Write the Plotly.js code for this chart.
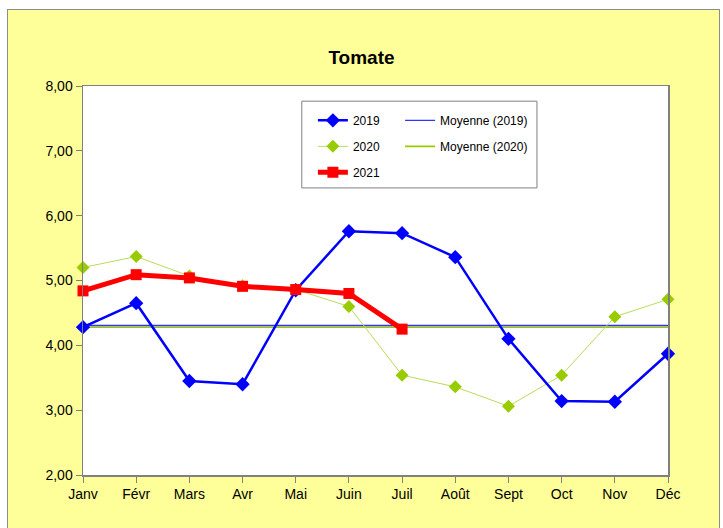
<!DOCTYPE html>
<html>
<head>
<meta charset="utf-8">
<script src="https://cdn.plot.ly/plotly-3.0.1.min.js"></script>
<style>
html,body{margin:0;padding:0;background:#ffffff;}
#frame{position:absolute;left:7px;top:9px;width:711px;height:530px;background:#ffff99;border:1px solid #8c8c8c;}
#chart{position:absolute;left:0;top:0;width:723px;height:528px;}
</style>
</head>
<body>
<div id="frame"></div>
<div id="chart"></div>
<script>
var months = ["Janv","Févr","Mars","Avr","Mai","Juin","Juil","Août","Sept","Oct","Nov","Déc"];
var y2019 = [4.28,4.65,3.45,3.40,4.85,5.76,5.73,5.36,4.10,3.14,3.13,3.87];
var y2020 = [5.20,5.37,5.07,4.92,4.86,4.60,3.54,3.36,3.06,3.54,4.44,4.71];
var y2021 = [4.84,5.09,5.04,4.91,4.86,4.80,4.25];
var moy2019 = [4.305,4.305,4.305,4.305,4.305,4.305,4.305,4.305,4.305,4.305,4.305,4.305];
var moy2020 = [4.28,4.28,4.28,4.28,4.28,4.28,4.28,4.28,4.28,4.28,4.28,4.28];

var FONT = "'Liberation Sans Narrow', 'Liberation Sans', Arial, sans-serif";

var traces = [
  {x: months, y: moy2020, name: "Moyenne (2020)", mode: "lines", line: {color: "#99cc00", width: 1.6}, legend: "legend2", legendgroup: "m20", legendrank: 2, cliponaxis: false},
  {x: months, y: moy2019, name: "Moyenne (2019)", mode: "lines", line: {color: "#3333ff", width: 1.4}, legend: "legend2", legendgroup: "m19", legendrank: 1, cliponaxis: false},
  {x: months, y: y2020, name: "2020", mode: "lines+markers", line: {color: "#b8dc5a", width: 1}, marker: {symbol: "diamond", size: 10, color: "#99cc00"}, legendgroup: "a20", legendrank: 2, cliponaxis: false},
  {x: months, y: y2019, name: "2019", mode: "lines+markers", line: {color: "#0000ff", width: 2.5}, marker: {symbol: "diamond", size: 11, color: "#0000ff"}, legendgroup: "a19", legendrank: 1, cliponaxis: false},
  {x: months.slice(0, y2021.length), y: y2021, name: "2021", mode: "lines+markers", line: {color: "#ff0000", width: 5}, marker: {symbol: "square", size: 11, color: "#ff0000"}, legendgroup: "a21", legendrank: 3, cliponaxis: false}
];

var layout = {
  width: 723, height: 528,
  paper_bgcolor: "rgba(0,0,0,0)",
  plot_bgcolor: "#ffffff",
  margin: {l: 83, r: 55, t: 86, b: 53},
  separators: ",.",
  font: {family: FONT, size: 13, color: "#000000"},
  title: {text: "<b>Tomate</b>", font: {family: FONT, size: 19, color: "#000000"}, x: 0.5, xanchor: "center", y: 0.892, yanchor: "middle"},
  showlegend: true,
  xaxis: {
    type: "category", range: [0, 11], showgrid: false, zeroline: false,
    showline: true, linecolor: "#808080", linewidth: 1.5, mirror: true,
    ticks: "outside", ticklen: 6, tickcolor: "#808080", tickfont: {family: FONT, size: 14},
    fixedrange: true
  },
  yaxis: {
    range: [2, 8], dtick: 1, tickformat: ".2f", showgrid: false, zeroline: false,
    showline: true, linecolor: "#808080", linewidth: 1.5, mirror: true,
    ticks: "outside", ticklen: 6, tickcolor: "#808080", tickfont: {family: FONT, size: 14},
    fixedrange: true
  },
  legend: {
    x: 0.393, y: 0.949, xanchor: "left", yanchor: "top",
    bgcolor: "rgba(0,0,0,0)", borderwidth: 0,
    font: {family: FONT, size: 12}, tracegroupgap: 7, traceorder: "grouped"
  },
  legend2: {
    x: 0.542, y: 0.949, xanchor: "left", yanchor: "top",
    bgcolor: "rgba(0,0,0,0)", borderwidth: 0,
    font: {family: FONT, size: 12}, tracegroupgap: 7, traceorder: "grouped"
  },
  shapes: [
    {type: "rect", xref: "paper", yref: "paper", x0: 0.374, x1: 0.776, y0: 0.738, y1: 0.961,
     line: {color: "#808080", width: 1}, fillcolor: "#ffffff", layer: "below"}
  ]
};

Plotly.newPlot("chart", traces, layout, {displayModeBar: false, staticPlot: true});
</script>
</body>
</html>
